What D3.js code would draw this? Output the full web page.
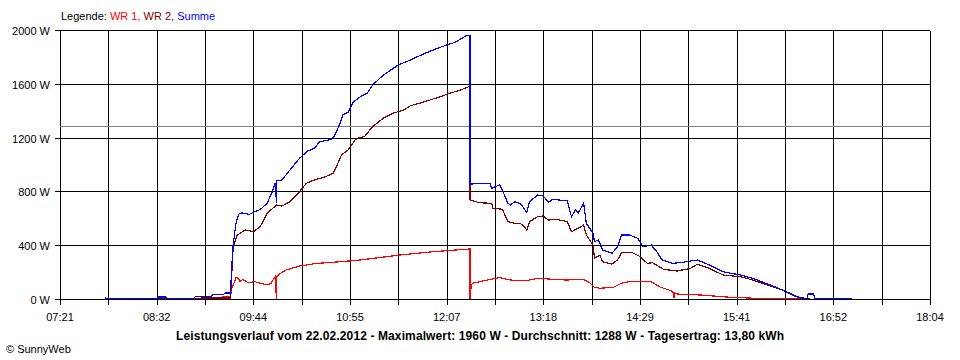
<!DOCTYPE html>
<html><head><meta charset="utf-8">
<script src="https://cdn.jsdelivr.net/npm/d3@7"></script>
<style>
body{margin:0;background:#fff}
svg{display:block}
text{font-family:"Liberation Sans",Arial,sans-serif}
</style>
</head><body>
<svg id="c" width="960" height="360"></svg>
<script>
const xTickLabels = ["07:21","08:32","09:44","10:55","12:07","13:18","14:29","15:41","16:52","18:04"];
const yTicks = [0,400,800,1200,1600,2000];
const yMax = 2000;
const average = 1288;
const title = "Leistungsverlauf vom 22.02.2012 - Maximalwert: 1960 W - Durchschnitt: 1288 W - Tagesertrag: 13,80 kWh";
const credit = "\u00A9 SunnyWeb";
const legendLabel = "Legende: ";
const seriesNames = ["WR 1", "WR 2", "Summe"];
const seriesColors = ["#ff0000", "#800000", "#0000ff"];

const wr1 = [["09:04",3],["09:20",5],["09:21",15],["09:27",15],["09:28",80],["09:30",129],["09:31",160],["09:33",154],["09:34",130],["09:36",146],["09:40",121],["09:45",129],["09:49",117],["09:54",104],["09:57",117],["10:00",166],["10:01",0],["10:01",166],["10:04",191],["10:08",216],["10:18",245],["10:31",265],["10:48",277],["11:03",290],["11:32",327],["11:57",352],["12:24",372],["12:24",0],["12:25",104],["12:26",117],["12:39",146],["12:46",159],["12:54",141],["13:06",136],["13:14",154],["13:26",146],["13:35",141],["13:48",146],["13:53",117],["13:56",87],["14:00",80],["14:10",87],["14:15",112],["14:17",121],["14:22",129],["14:38",129],["14:44",91],["14:51",67],["14:54",54],["14:55",5],["14:55",45],["14:57",37],["15:14",30],["15:36",13],["16:01",3],["16:28",2]];

const wr2 = [["07:54",2],["09:27",8],["09:28",200],["09:29",389],["09:32",476],["09:38",513],["09:44",500],["09:49",538],["09:54",637],["10:01",699],["10:05",691],["10:11",723],["10:18",798],["10:23",860],["10:29",885],["10:36",905],["10:43",934],["10:46",1000],["10:49",1071],["10:54",1108],["10:59",1182],["11:01",1195],["11:06",1207],["11:12",1281],["11:20",1344],["11:27",1381],["11:35",1405],["11:40",1437],["11:49",1462],["12:02",1504],["12:09",1529],["12:17",1554],["12:23",1578],["12:24",1590],["12:24",736],["12:31",716],["12:40",711],["12:41",674],["12:48",667],["12:52",575],["12:57",563],["13:01",563],["13:03",550],["13:06",513],["13:08",575],["13:14",612],["13:18",617],["13:22",587],["13:28",593],["13:36",575],["13:39",500],["13:44",526],["13:48",550],["13:50",476],["13:55",401],["13:56",303],["14:00",327],["14:02",277],["14:09",260],["14:13",290],["14:16",344],["14:24",344],["14:30",315],["14:35",265],["14:39",270],["14:47",221],["14:57",208],["15:07",228],["15:12",258],["15:21",228],["15:31",178],["15:44",166],["15:53",141],["16:06",97],["16:15",67],["16:26",13],["16:29",2],["16:35",2]];

const summe = [["07:54",12],["07:55",5],["08:33",5],["08:34",15],["08:39",15],["08:40",6],["09:00",6],["09:01",18],["09:13",20],["09:14",32],["09:22",35],["09:23",45],["09:27",45],["09:28",250],["09:29",400],["09:31",560],["09:33",630],["09:35",640],["09:41",630],["09:45",650],["09:49",665],["09:54",711],["09:58",800],["10:00",865],["10:01",714],["10:01",880],["10:05",885],["10:11",960],["10:18",1046],["10:24",1100],["10:29",1120],["10:33",1170],["10:41",1185],["10:44",1215],["10:48",1306],["10:50",1368],["10:54",1388],["10:58",1467],["11:03",1504],["11:08",1529],["11:12",1591],["11:20",1665],["11:31",1740],["11:40",1777],["11:49",1819],["12:00",1864],["12:07",1889],["12:13",1908],["12:20",1950],["12:21",1960],["12:24",1960],["12:24",855],["12:39",860],["12:40",823],["12:46",848],["12:48",810],["12:52",711],["12:54",699],["12:57",723],["13:01",711],["13:03",686],["13:06",642],["13:08",723],["13:14",773],["13:18",768],["13:22",719],["13:25",741],["13:30",736],["13:36",731],["13:39",612],["13:42",662],["13:44",637],["13:48",711],["13:50",563],["13:55",488],["13:56",426],["13:59",439],["14:02",364],["14:09",340],["14:13",389],["14:16",476],["14:22",476],["14:28",451],["14:32",389],["14:38",401],["14:42",352],["14:46",290],["14:54",265],["15:01",273],["15:12",290],["15:21",253],["15:31",203],["15:44",178],["15:53",154],["16:06",104],["16:15",67],["16:26",17],["16:33",3],["16:34",37],["16:38",37],["16:39",3],["17:06",3]];

const toMin = t => { const [h, m] = t.split(":"); return (+h) * 60 + (+m); };
const svg = d3.select("#c");
const L = 60, R = 930, T = 30, B = 299;
const tStart = toMin(xTickLabels[0]), tEnd = toMin(xTickLabels[xTickLabels.length - 1]);
const x = d3.scaleLinear().domain([tStart, tEnd]).range([L, R]);
const y = d3.scaleLinear().domain([0, yMax]).range([B, T]);
const nIntervals = (xTickLabels.length - 1) * 2;
const gridTimes = d3.range(nIntervals + 1).map(i => tStart + i * (tEnd - tStart) / nIntervals);
const px = v => Math.round(v) + 0.5;

const g = svg.append("g").attr("shape-rendering", "crispEdges");
g.selectAll("line.h").data(yTicks).join("line")
  .attr("x1", L - 5).attr("x2", R).attr("y1", d => px(y(d))).attr("y2", d => px(y(d)))
  .attr("stroke", "#000");
g.selectAll("line.v").data(gridTimes).join("line")
  .attr("x1", d => px(x(d))).attr("x2", d => px(x(d))).attr("y1", px(T)).attr("y2", B + 6)
  .attr("stroke", "#000");
g.append("line").attr("x1", L).attr("x2", R).attr("y1", px(y(average))).attr("y2", px(y(average)))
  .attr("stroke", "#808080");

svg.selectAll("text.yl").data(yTicks).join("text")
  .attr("x", 50).attr("y", d => Math.round(y(d)) + 4.5)
  .attr("text-anchor", "end").attr("font-size", 11).text(d => d + " W");
svg.selectAll("text.xl").data(xTickLabels).join("text")
  .attr("x", (d, i) => x(gridTimes[i * 2])).attr("y", 321)
  .attr("text-anchor", "middle").attr("font-size", 11).text(d => d);

const line = d3.line().x(d => x(toMin(d[0]))).y(d => y(d[1]));
[wr1, wr2, summe].forEach((s, i) => {
  svg.append("path").attr("d", line(s)).attr("fill", "none")
    .attr("stroke", seriesColors[i]).attr("stroke-width", 1.2).attr("shape-rendering", "crispEdges");
});

const lg = svg.append("text").attr("x", 61).attr("y", 20).attr("font-size", 11);
lg.append("tspan").attr("fill", "#000").text(legendLabel);
seriesNames.forEach((n, i) => {
  lg.append("tspan").attr("fill", seriesColors[i]).text(n + (i < seriesNames.length - 1 ? ", " : ""));
});

svg.append("text").attr("x", 480).attr("y", 340).attr("text-anchor", "middle")
  .attr("font-size", 12).attr("font-weight", "bold")
  .attr("textLength", 608).attr("lengthAdjust", "spacing").text(title);
svg.append("text").attr("x", 6).attr("y", 353).attr("font-size", 11).text(credit);
</script>
</body></html>
